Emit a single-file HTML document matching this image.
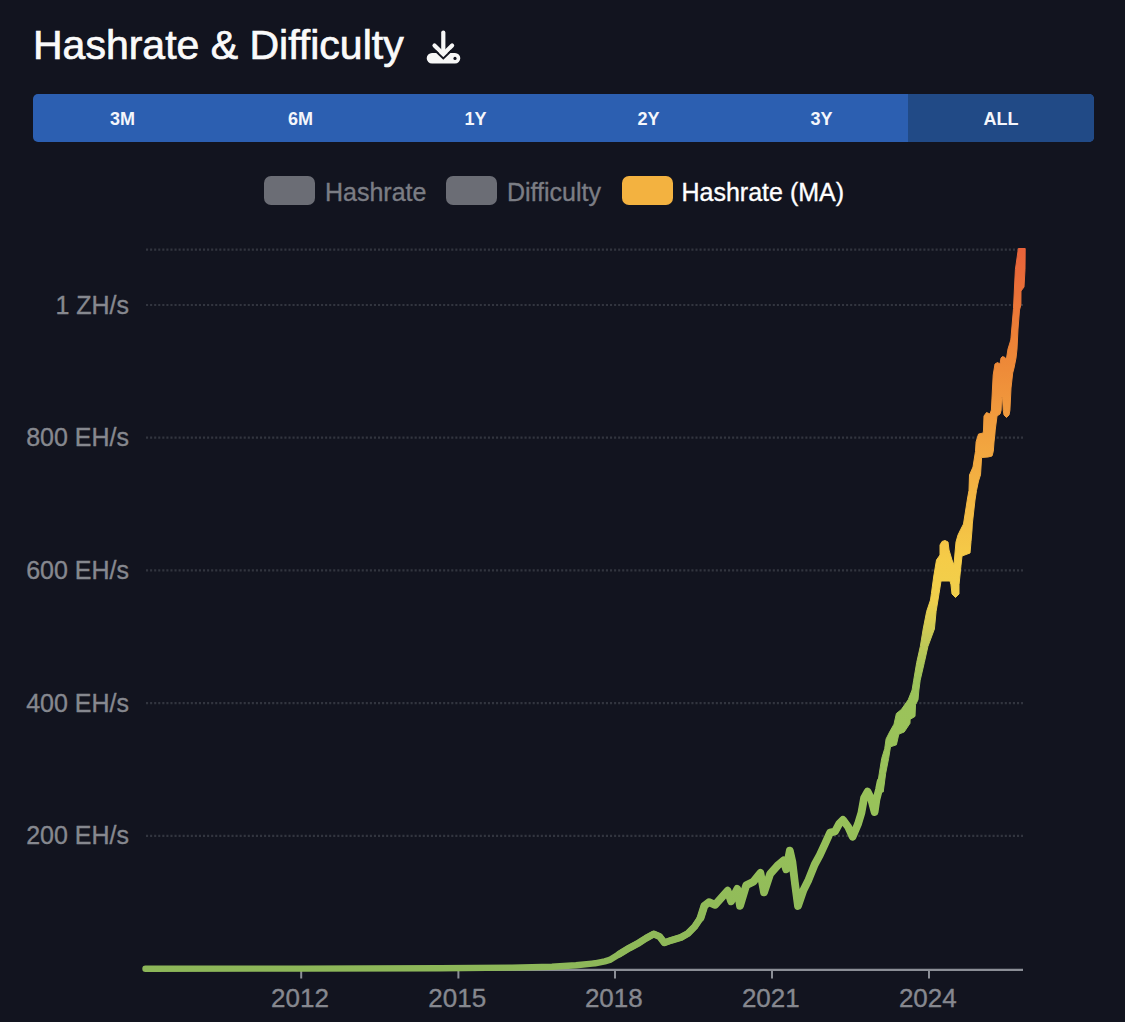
<!DOCTYPE html>
<html><head><meta charset="utf-8">
<style>
html,body{margin:0;padding:0;background:#12141f;width:1125px;height:1022px;overflow:hidden;}
body{font-family:"Liberation Sans",sans-serif;position:relative;}
.title{position:absolute;left:33px;top:21px;font-size:41px;color:#fafafa;line-height:48px;white-space:nowrap;-webkit-text-stroke:0.7px #fafafa;}
.bar{position:absolute;left:33px;top:94px;width:1061px;height:48px;border-radius:5px;background:#2c5fb1;overflow:hidden;display:flex;}
.seg{height:48px;line-height:51px;text-align:center;color:#f4f6fb;font-weight:bold;font-size:18px;letter-spacing:0px;}
.seg.sel{background:#214a86;}
.legend{position:absolute;top:176px;left:0;height:30px;}
.lg{position:absolute;top:0;height:29px;border-radius:7px;width:51px;}
.lt{position:absolute;top:1px;font-size:25px;line-height:30px;white-space:nowrap;-webkit-text-stroke:0.35px currentColor;}
svg{position:absolute;left:0;top:0;}
</style></head><body>
<div class="title">Hashrate &amp; Difficulty</div>
<svg width="1125" height="1022" viewBox="0 0 1125 1022" style="z-index:1">
<g fill="#f7f7f7">
<rect x="441.2" y="30.5" width="4.2" height="21" rx="2.1"/>
<path d="M434.5 45.5 L443.3 54.3 L452.1 45.5" fill="none" stroke="#f7f7f7" stroke-width="4.2" stroke-linecap="round" stroke-linejoin="round"/>
<path d="M432 53 H455 a5.3 5.3 0 0 1 0 10.6 H432 a5.3 5.3 0 0 1 0 -10.6Z"/>
</g>
<path d="M435 50.5 L443.3 58.5 L451.6 50.5" fill="none" stroke="#12141f" stroke-width="1.8"/>
<circle cx="455" cy="58.4" r="1.6" fill="#12141f"/>
</svg>
<div class="bar">
<div class="seg" style="width:179px">3M</div>
<div class="seg" style="width:177px">6M</div>
<div class="seg" style="width:173px">1Y</div>
<div class="seg" style="width:173px">2Y</div>
<div class="seg" style="width:173px">3Y</div>
<div class="seg sel" style="width:186px">ALL</div>
</div>
<div class="legend">
<div class="lg" style="left:264px;background:#6b6d75"></div>
<div class="lt" style="left:325px;color:#7b7d84">Hashrate</div>
<div class="lg" style="left:446px;background:#6b6d75"></div>
<div class="lt" style="left:507px;color:#7b7d84">Difficulty</div>
<div class="lg" style="left:622px;background:#f3b240"></div>
<div class="lt" style="left:681.5px;color:#ffffff">Hashrate (MA)</div>
</div>
<svg width="1125" height="1022" viewBox="0 0 1125 1022">
<defs>
<linearGradient id="g" gradientUnits="userSpaceOnUse" x1="0" y1="970" x2="0" y2="249">
<stop offset="0" stop-color="#8db759"/>
<stop offset="0.22" stop-color="#98c25a"/>
<stop offset="0.40" stop-color="#9cc35a"/>
<stop offset="0.458" stop-color="#c4c957"/>
<stop offset="0.513" stop-color="#f0d04c"/>
<stop offset="0.569" stop-color="#f5cc48"/>
<stop offset="0.735" stop-color="#f2a33f"/>
<stop offset="0.88" stop-color="#ec8036"/>
<stop offset="1" stop-color="#e8623a"/>
</linearGradient>
</defs>
<line x1="146" y1="249.6" x2="1023" y2="249.6" stroke="#32353f" stroke-width="2.2" stroke-dasharray="2.1 1.97"/>
<line x1="146" y1="305" x2="1023" y2="305" stroke="#32353f" stroke-width="2.2" stroke-dasharray="2.1 1.97"/>
<line x1="146" y1="437.7" x2="1023" y2="437.7" stroke="#32353f" stroke-width="2.2" stroke-dasharray="2.1 1.97"/>
<line x1="146" y1="570.4" x2="1023" y2="570.4" stroke="#32353f" stroke-width="2.2" stroke-dasharray="2.1 1.97"/>
<line x1="146" y1="703.2" x2="1023" y2="703.2" stroke="#32353f" stroke-width="2.2" stroke-dasharray="2.1 1.97"/>
<line x1="146" y1="835.9" x2="1023" y2="835.9" stroke="#32353f" stroke-width="2.2" stroke-dasharray="2.1 1.97"/>
<line x1="146" y1="969.8" x2="1023" y2="969.8" stroke="#8b8e96" stroke-width="2.3"/>
<line x1="301.2" y1="970" x2="301.2" y2="978.5" stroke="#8b8e96" stroke-width="2"/>
<line x1="458.4" y1="970" x2="458.4" y2="978.5" stroke="#8b8e96" stroke-width="2"/>
<line x1="615" y1="970" x2="615" y2="978.5" stroke="#8b8e96" stroke-width="2"/>
<line x1="772" y1="970" x2="772" y2="978.5" stroke="#8b8e96" stroke-width="2"/>
<line x1="929" y1="970" x2="929" y2="978.5" stroke="#8b8e96" stroke-width="2"/>
<g font-family="Liberation Sans" font-size="25" fill="#86888f" stroke="#86888f" stroke-width="0.35">
<text x="129" y="313.5" text-anchor="end">1 ZH/s</text>
<text x="129" y="446.2" text-anchor="end">800 EH/s</text>
<text x="129" y="578.9" text-anchor="end">600 EH/s</text>
<text x="129" y="711.7" text-anchor="end">400 EH/s</text>
<text x="129" y="844.4" text-anchor="end">200 EH/s</text>
<text x="300.0" y="1006.8" text-anchor="middle" font-size="26">2012</text>
<text x="457.2" y="1006.8" text-anchor="middle" font-size="26">2015</text>
<text x="613.8" y="1006.8" text-anchor="middle" font-size="26">2018</text>
<text x="770.8" y="1006.8" text-anchor="middle" font-size="26">2021</text>
<text x="927.8" y="1006.8" text-anchor="middle" font-size="26">2024</text>
</g>
<polyline points="145.5,968.8 300.0,968.6 440.0,968.3 512.0,967.6 552.0,966.8 576.0,965.2 592.0,963.6 595.0,963.3 604.8,961.3 609.7,959.9 619.4,954.0 629.2,948.1 639.0,942.8 645.8,938.4 653.7,934.0 659.5,936.4 664.4,942.8 671.3,940.3 681.0,937.4 687.9,933.5 694.7,926.6 700.6,917.8 704.4,905.8 708.9,902.2 715.1,904.9 722.2,896.9 727.6,890.7 731.1,901.3 737.3,888.9 740.0,905.8 746.2,885.3 753.3,881.8 760.4,872.9 764.0,892.4 770.2,873.8 777.3,865.8 783.6,860.4 786.2,869.3 789.8,850.7 792.4,862.2 795.1,884.4 798.0,906.0 803.4,890.2 808.5,879.9 814.7,864.5 819.8,855.2 825.0,843.9 830.1,832.6 835.0,831.5 839.4,823.4 842.9,819.9 848.2,827.0 852.6,836.7 857.9,824.3 861.4,812.9 864.1,797.9 867.6,791.7 871.1,798.8 874.6,812.0 876.4,799.6 879.1,789.1 880.5,782.0" fill="none" stroke="url(#g)" stroke-width="6.4" stroke-linejoin="round" stroke-linecap="round"/>
<polyline points="619.4,954.0 629.2,948.1 639.0,942.8 645.8,938.4 653.7,934.0 659.5,936.4 664.4,942.8 671.3,940.3 681.0,937.4 687.9,933.5 694.7,926.6 700.6,917.8 704.4,905.8" fill="none" stroke="url(#g)" stroke-width="7" stroke-linejoin="round" stroke-linecap="round"/>
<polyline points="700.6,917.8 704.4,905.8 708.9,902.2 715.1,904.9 722.2,896.9 727.6,890.7 731.1,901.3 737.3,888.9 740.0,905.8 746.2,885.3 753.3,881.8 760.4,872.9 764.0,892.4 770.2,873.8 777.3,865.8 783.6,860.4 786.2,869.3 789.8,850.7 792.4,862.2 795.1,884.4 798.0,906.0 803.4,890.2 808.5,879.9 814.7,864.5 819.8,855.2 825.0,843.9 830.1,832.6 835.0,831.5 839.4,823.4 842.9,819.9 848.2,827.0 852.6,836.7 857.9,824.3 861.4,812.9 864.1,797.9 867.6,791.7 871.1,798.8 874.6,812.0 876.4,799.6 879.1,789.1 880.5,782.0" fill="none" stroke="url(#g)" stroke-width="7.8" stroke-linejoin="round" stroke-linecap="round"/>
<polygon points="876.5,792.0 879.3,773.2 881.7,758.5 884.7,748.7 886.1,738.9 889.6,732.0 894.0,724.2 896.4,713.5 901.3,709.6 908.2,699.8 912.1,690.0 913.7,680.2 916.7,662.6 920.3,646.5 923.2,629.0 926.7,611.3 930.5,600.0 931.4,593.7 933.8,576.0 936.5,560.0 940.0,555.0 940.0,545.0 942.0,541.5 945.0,540.5 948.0,542.0 949.0,550.0 952.0,560.0 954.0,565.0 955.0,553.0 956.0,542.0 958.0,535.0 960.5,529.8 963.5,524.0 967.6,498.0 969.0,490.4 969.5,475.0 973.0,467.0 975.5,451.3 976.1,441.9 978.5,434.1 983.2,433.0 983.5,430.0 984.0,416.0 986.5,412.5 990.0,414.0 991.4,410.0 992.5,388.0 993.2,375.0 995.0,364.0 997.5,362.5 1000.0,364.0 1001.0,358.0 1002.5,356.5 1005.0,357.5 1006.4,359.0 1008.0,349.0 1010.8,340.0 1011.0,337.8 1013.5,308.5 1014.5,287.0 1015.4,269.4 1018.4,248.5 1025.2,248.5 1025.0,269.4 1024.0,287.0 1021.0,291.0 1020.9,304.7 1019.5,310.0 1018.0,329.0 1017.0,349.0 1016.0,358.0 1014.0,368.0 1012.7,373.0 1011.0,388.0 1009.9,410.4 1009.0,415.0 1006.5,417.5 1004.0,415.0 1003.3,410.4 1002.5,397.2 1001.6,397.2 1001.1,410.4 1000.0,414.0 997.0,416.0 996.5,420.0 995.2,430.0 994.9,434.0 994.0,442.0 993.3,451.3 992.0,456.0 988.0,457.0 981.6,457.5 981.0,467.0 980.5,474.8 978.5,481.0 976.5,490.4 975.0,500.0 972.3,524.0 972.0,530.0 971.0,541.7 970.0,553.0 962.0,556.0 961.0,565.2 959.0,584.8 959.0,594.0 955.5,597.5 952.0,594.0 951.0,584.8 950.0,581.0 941.0,581.0 939.0,593.7 936.1,611.3 934.4,629.0 927.9,646.5 924.3,662.6 920.2,680.2 918.9,690.0 918.0,699.8 915.5,704.7 915.0,716.4 910.1,719.4 910.0,723.3 904.2,732.0 899.0,734.0 898.4,736.0 896.4,744.8 890.5,746.8 888.6,758.5 885.7,773.2 883.2,792.0" fill="url(#g)" stroke="url(#g)" stroke-width="1" stroke-linejoin="round"/>
</svg>
</body></html>
